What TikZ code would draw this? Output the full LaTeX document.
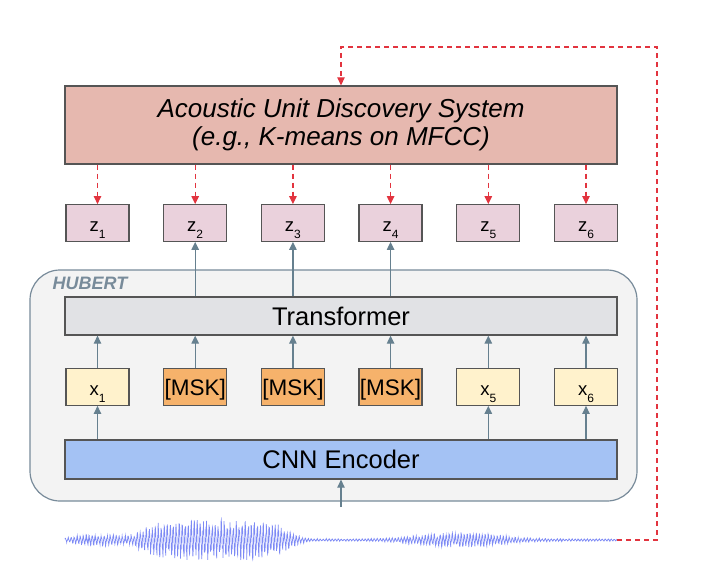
\documentclass[tikz,border=0pt]{standalone}
\usepackage{fontspec}
\setmainfont{Liberation Sans}
\usetikzlibrary{arrows.meta,positioning}

\definecolor{boxline}{HTML}{555555}
\definecolor{arrowc}{HTML}{66808F}
\definecolor{dashred}{HTML}{E2343F}
\definecolor{audsfill}{HTML}{E6B8AF}
\definecolor{zfill}{HTML}{EAD1DC}
\definecolor{xfill}{HTML}{FFF2CC}
\definecolor{mskfill}{HTML}{F6B26B}
\definecolor{trffill}{HTML}{E1E2E5}
\definecolor{cnnfill}{HTML}{A4C2F4}
\definecolor{hubfill}{HTML}{F3F3F3}
\definecolor{hubline}{HTML}{788B9A}
\definecolor{wavec}{HTML}{5D6DF2}

\newcommand{\lbl}[2]{#1\raisebox{-0.8ex}{\fontsize{12}{12}\selectfont #2}}

\begin{document}
\begin{tikzpicture}[x=1pt,y=-1pt,>={Triangle[length=8pt,width=7.5pt]},node distance=33.4pt,
    box/.style={draw=boxline,line width=1.3pt,inner sep=0pt,minimum width=63pt,
      minimum height=36.5pt,text height=18pt,text depth=2pt,font=\fontsize{18.5}{20}\selectfont},
    zbox/.style={box,fill=zfill},
    xbox/.style={box,fill=xfill},
    mskbox/.style={box,fill=mskfill,font=\fontsize{22.5}{24}\selectfont},
    wide box/.style={draw=boxline,line width=1.3pt,inner sep=0pt,minimum width=552pt,
      text height=20pt,text depth=2pt,font=\fontsize{25.5}{28}\selectfont},
    link/.style={->,draw=arrowc,line width=1.2pt},
    target/.style={->,draw=dashred,line width=1.2pt,dash pattern=on 5pt off 4pt},
    declare function={wenv(\t)=1.2+5*exp(0-min(pow(abs(\t-100)/32,2),8))
      +20*exp(0-pow(min(abs(\t-215)/76,1.4),6))+7*exp(0-min(pow(abs(\t-460)/50,2),8));}]

  \useasboundingbox (0,0) rectangle (713,578);

  % HUBERT frame
  \node[draw=hubline,fill=hubfill,line width=1.2pt,rounded corners=30pt,
        minimum width=607pt,minimum height=231pt] (hubert) at (333.5,385.5) {};
  \node[anchor=base west,text=hubline,inner sep=0pt,
        font=\fontsize{18}{20}\selectfont\bfseries\itshape] (hubertlabel) at (52.5,289) {HUBERT};

  \node[wide box,fill=audsfill,minimum height=78pt,align=center,text height=,text depth=,
        font=\fontsize{26}{28}\selectfont\itshape] (auds) at (341,125)
        {Acoustic Unit Discovery System\\(e.g., K-means on MFCC)};
  \node[wide box,fill=trffill,minimum height=38pt] (transformer) at (341,316) {Transformer};
  \node[wide box,fill=cnnfill,minimum height=39pt] (cnn) at (341,459.5) {CNN Encoder};

  % targets
  \node[zbox] (z1) at (97.5,223) {\lbl{z}{1}};
  \node[zbox] (z2) [right=of z1] {\lbl{z}{2}};
  \node[zbox] (z3) [right=of z2] {\lbl{z}{3}};
  \node[zbox] (z4) [right=of z3] {\lbl{z}{4}};
  \node[zbox] (z5) [right=of z4] {\lbl{z}{5}};
  \node[zbox] (z6) [right=of z5] {\lbl{z}{6}};

  % frames
  \node[xbox] (x1) at (97.5,387) {\lbl{x}{1}};
  \node[mskbox] (x2) [right=of x1] {[MSK]};
  \node[mskbox] (x3) [right=of x2] {[MSK]};
  \node[mskbox] (x4) [right=of x3] {[MSK]};
  \node[xbox] (x5) [right=of x4] {\lbl{x}{5}};
  \node[xbox] (x6) [right=of x5] {\lbl{x}{6}};

  \foreach \i in {1,...,6} {
    \draw[link] (x\i) -- (x\i |- transformer.south);
    \draw[target] (auds.south -| z\i) -- (z\i);
  }
  \foreach \i in {1,5,6}
    \draw[link] (cnn.north -| x\i) -- (x\i);
  \foreach \i in {2,3,4}
    \draw[link] (transformer.north -| z\i) -- (z\i);

  % waveform
  \draw[wavec,opacity=0.8,line width=0.7pt]
    plot[domain=65:617,samples=2600] (\x,{540+wenv(\x)*sin(120*mod(\x,3))*(0.3+0.7*rnd)});
  \coordinate (wavein) at (341,507);
  \coordinate (waveend) at (617,540);
  \coordinate (fbcorner) at (657,47);
  \draw[link] (wavein) -- (cnn);
  \draw[target] (waveend) -| (fbcorner) -| (auds.north);
\end{tikzpicture}
\end{document}
